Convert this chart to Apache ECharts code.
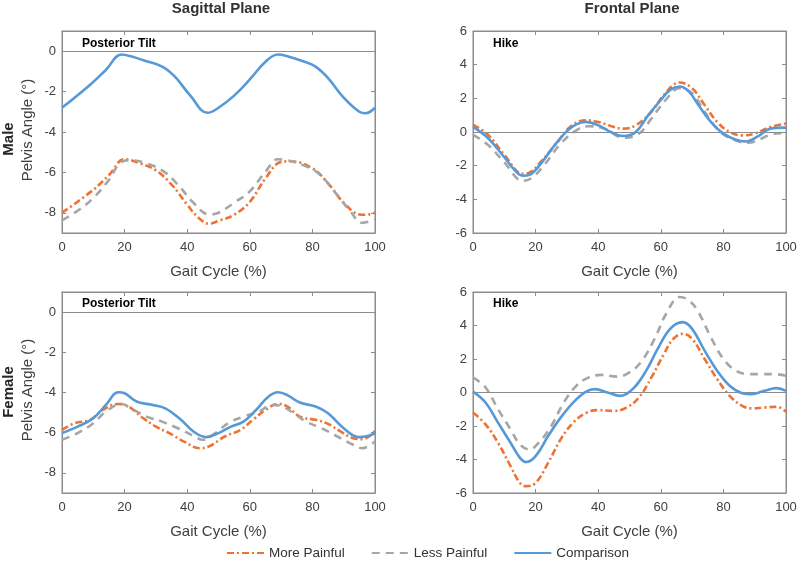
<!DOCTYPE html>
<html>
<head>
<meta charset="utf-8">
<script src="https://cdn.jsdelivr.net/npm/echarts@6/dist/echarts.min.js"></script>
<style>
html,body{margin:0;padding:0;background:#fff;}
#chart{width:800px;height:563px;}
</style>
</head>
<body>
<div id="chart"></div>
<script>
// ---- Labels ----
const colTitles = ['Sagittal Plane', 'Frontal Plane'];
const rowTitles = ['Male', 'Female'];
const yAxisTitle = 'Pelvis Angle (°)';
const xAxisTitle = 'Gait Cycle (%)';
const panelNotes = ['Posterior Tilt', 'Hike', 'Posterior Tilt', 'Hike'];
const seriesNames = ['More Painful', 'Less Painful', 'Comparison'];
const sagTicks = [-8, -6, -4, -2, 0];

// ---- Male, Sagittal ----
const mSagMoreX = [0,10,15,20,25,30,35,40,44,47,50,55,60,65,70,73,80,85,90,95,97,100];
const mSagMoreY = [-8.0,-6.86,-6.13,-5.35,-5.56,-5.9,-6.6,-7.6,-8.3,-8.54,-8.4,-8.1,-7.46,-6.3,-5.48,-5.45,-5.8,-6.54,-7.5,-8.08,-8.1,-8.0];
const mSagLessX = [0,5,10,15,19,22,27,32,37,42,47,50,55,60,65,69,72,77,82,87,92,96,100];
const mSagLessY = [-8.37,-7.9,-7.27,-6.37,-5.48,-5.4,-5.56,-5.9,-6.6,-7.5,-8.08,-8.0,-7.5,-6.94,-5.97,-5.35,-5.4,-5.64,-6.05,-6.94,-7.9,-8.5,-8.33];
const mSagCompX = [0,9,14,19,22,26,32,36,41,46.5,50,55,60,65,69,72,77,81,85,90,95,97,100];
const mSagCompY = [-2.8,-1.66,-0.93,-0.16,-0.25,-0.45,-0.76,-1.25,-2.2,-3.05,-2.8,-2.2,-1.4,-0.52,-0.16,-0.25,-0.5,-0.76,-1.33,-2.3,-3.0,-3.07,-2.8];

// ---- Male, Frontal ----
const mFroMoreX = [0,5,10,16,18,22,27,31,36,40,45,48,52,57,61,66,70,74,78,82,86,90,95,100];
const mFroMoreY = [0.44,-0.2,-1.35,-2.48,-2.42,-1.7,-0.6,0.3,0.7,0.6,0.3,0.2,0.4,1.2,2.2,2.94,2.6,1.6,0.6,0,-0.2,-0.1,0.3,0.5];
const mFroLessX = [0,5,10,16,19,23,28,33,37,42,48,53,57,62,66,70,74,79,84,88,92,96,100];
const mFroLessY = [-0.16,-0.8,-1.8,-2.9,-2.7,-1.9,-0.7,0.1,0.34,0.2,-0.34,-0.1,0.8,2.0,2.6,2.3,1.2,0,-0.5,-0.64,-0.4,-0.1,-0.06];
const mFroCompX = [0,5,10,14,16,18,22,26,30,33,36,40,44,48,52,56,60,63,66,69,72,76,80,84,87,91,95,100];
const mFroCompY = [0.3,-0.4,-1.5,-2.4,-2.6,-2.55,-1.8,-0.8,0.05,0.45,0.6,0.4,0.0,-0.24,0,1.0,1.9,2.5,2.7,2.4,1.6,0.6,-0.1,-0.46,-0.56,-0.26,0.2,0.26];

// ---- Female, Sagittal ----
const fSagMoreX = [0,4,9,13,18,21,26,30,34,39,44,47,52,57,61,65,69,72,76,81,85,89,93,96,100];
const fSagMoreY = [-5.86,-5.53,-5.36,-4.87,-4.57,-4.67,-5.28,-5.7,-6.0,-6.44,-6.77,-6.68,-6.19,-5.86,-5.36,-4.87,-4.57,-4.7,-5.2,-5.36,-5.56,-5.94,-6.27,-6.32,-5.9];
const fSagLessX = [0,5,10,14,19,22,27,32,37,42,45,49,53,58,63,67,70,74,78,83,88,93,96,100];
const fSagLessY = [-6.35,-6.02,-5.53,-4.95,-4.57,-4.79,-5.2,-5.45,-5.78,-6.15,-6.35,-6.02,-5.53,-5.2,-4.95,-4.62,-4.67,-5.03,-5.45,-5.78,-6.19,-6.6,-6.77,-6.44];
const fSagCompX = [0,5,10,14,18,20,24,29,33,38,42,46,50,54,58,62,66,69,72,76,81,85,90,95,98,100];
const fSagCompY = [-6.02,-5.7,-5.28,-4.62,-3.99,-4.04,-4.46,-4.62,-4.79,-5.36,-5.94,-6.22,-6.02,-5.7,-5.45,-4.87,-4.2,-3.99,-4.13,-4.5,-4.7,-5.03,-5.78,-6.22,-6.15,-6.02];

// ---- Female, Frontal ----
const fFroMoreX = [0,4,8,12,15,17,20,24,28,32,36,40,45,49,53,57,61,64,67,70,74,78,82,86,89,93,97,100];
const fFroMoreY = [-1.2,-1.9,-3.0,-4.4,-5.4,-5.6,-5.4,-4.2,-2.8,-1.8,-1.23,-1.05,-1.1,-0.9,-0.3,0.9,2.3,3.2,3.5,3.2,2.0,0.8,-0.2,-0.8,-0.95,-0.9,-0.85,-1.15];
const fFroLessX = [0,4,8,12,15,18,21,25,29,33,37,41,46,50,54,58,62,66,69,72,76,80,84,88,92,96,100];
const fFroLessY = [0.9,0.3,-1.0,-2.2,-3.1,-3.4,-3.0,-2.0,-0.6,0.4,0.9,1.05,0.95,1.2,1.9,3.2,4.8,5.7,5.5,4.8,3.3,2.0,1.3,1.1,1.1,1.1,1.0];
const fFroCompX = [0,4,8,12,15,17,20,24,28,32,36,39,43,47,51,55,59,63,67,70,74,78,82,86,89,93,97,100];
const fFroCompY = [0.05,-0.6,-1.8,-3.0,-3.9,-4.15,-3.8,-2.6,-1.5,-0.6,0.04,0.2,0,-0.2,0.2,1.2,2.6,3.8,4.2,3.8,2.5,1.3,0.4,-0.04,-0.1,0.1,0.26,0.1];

// ---- build ----
const FONT = '"Liberation Sans", Arial, sans-serif';
const AX = '#8c8c8c';
const TXT = '#404040';
const colors = ['#EE7230', '#A6A6A6', '#5599D8'];
const dashes = [[7,3,2,3], [8,6], 'solid'];

const panels = [
  {left:62, top:31, width:313, height:202, sag:true, sets:[[mSagMoreX,mSagMoreY],[mSagLessX,mSagLessY],[mSagCompX,mSagCompY]]},
  {left:473, top:31, width:313, height:202, sag:false, sets:[[mFroMoreX,mFroMoreY],[mFroLessX,mFroLessY],[mFroCompX,mFroCompY]]},
  {left:62, top:292, width:313, height:201, sag:true, sets:[[fSagMoreX,fSagMoreY],[fSagLessX,fSagLessY],[fSagCompX,fSagCompY]]},
  {left:473, top:292, width:313, height:201, sag:false, sets:[[fFroMoreX,fFroMoreY],[fFroLessX,fFroLessY],[fFroCompX,fFroCompY]]}
];

const grid = [], xAxis = [], yAxis = [], series = [];
panels.forEach((p, i) => {
  grid.push({left:p.left, top:p.top, width:p.width, height:p.height, show:true, borderColor:AX, borderWidth:1, containLabel:false});
  const yBase = p.sag
    ? {min:-9, max:1, axisLabel:{customValues:sagTicks}, axisTick:{customValues:sagTicks}}
    : {min:-6, max:6, interval:2};
  // bottom x
  xAxis.push({type:'value', gridIndex:i, min:0, max:100, interval:20, position:'bottom',
    name:xAxisTitle, nameLocation:'middle', nameGap:31,
    nameTextStyle:{fontFamily:FONT, fontSize:15, color:TXT},
    axisLine:{show:true, onZero:false, lineStyle:{color:AX, width:1}},
    axisTick:{show:true, inside:true, length:4, lineStyle:{color:AX}},
    axisLabel:{fontFamily:FONT, fontSize:13, color:TXT, margin:8},
    splitLine:{show:false}});
  // top x (ticks only)
  xAxis.push({type:'value', gridIndex:i, min:0, max:100, interval:20, position:'top',
    axisLine:{show:true, onZero:false, lineStyle:{color:AX, width:1}},
    axisTick:{show:true, inside:true, length:4, lineStyle:{color:AX}},
    axisLabel:{show:false}, splitLine:{show:false}});
  // left y
  const yl = Object.assign({type:'value', gridIndex:i, position:'left',
    axisLine:{show:true, onZero:false, lineStyle:{color:AX, width:1}},
    splitLine:{show:false}}, JSON.parse(JSON.stringify(yBase)));
  yl.axisLabel = Object.assign({fontFamily:FONT, fontSize:13, color:TXT, margin:6}, yl.axisLabel || {});
  yl.axisTick = Object.assign({show:true, inside:true, length:4, lineStyle:{color:AX}}, yl.axisTick || {});
  yAxis.push(yl);
  const yr = Object.assign({type:'value', gridIndex:i, position:'right',
    axisLine:{show:true, onZero:false, lineStyle:{color:AX, width:1}},
    splitLine:{show:false}}, JSON.parse(JSON.stringify(yBase)));
  yr.axisLabel = Object.assign({}, yr.axisLabel || {}, {show:false});
  yr.axisTick = Object.assign({show:true, inside:true, length:4, lineStyle:{color:AX}}, yr.axisTick || {});
  yAxis.push(yr);

  p.sets.forEach((s, k) => {
    const data = s[0].map((x, j) => [x, s[1][j]]);
    const ser = {
      name: seriesNames[k], type:'line', xAxisIndex:2*i, yAxisIndex:2*i,
      data, smooth:0.4, symbol:'none', showSymbol:false, silent:true,
      color: colors[k],
      lineStyle:{color:colors[k], width:2.6, type:dashes[k]},
      z: 3 + k
    };
    if (k === 0) {
      ser.markLine = {silent:true, symbol:'none', animation:false, label:{show:false},
        lineStyle:{color:'#8c8c8c', width:1, type:'solid'}, data:[{yAxis:0}]};
    }
    series.push(ser);
  });
});

const graphic = [];
// column titles
graphic.push({type:'text', x:221, y:9, style:{text:colTitles[0], font:'bold 15px ' + FONT, fill:'#333', align:'center', verticalAlign:'middle'}});
graphic.push({type:'text', x:632, y:9, style:{text:colTitles[1], font:'bold 15px ' + FONT, fill:'#333', align:'center', verticalAlign:'middle'}});
// row labels
[[139, 130], [392, 390]].forEach((c, r) => {
  graphic.push({type:'text', x:9, y:c[0], rotation:Math.PI/2, style:{text:rowTitles[r], font:'bold 15px ' + FONT, fill:'#262626', align:'center', verticalAlign:'middle'}});
  graphic.push({type:'text', x:28, y:c[1], rotation:Math.PI/2, style:{text:yAxisTitle, font:'15px ' + FONT, fill:TXT, align:'center', verticalAlign:'middle'}});
});
// panel notes
[[82,44],[493,44],[82,304],[493,304]].forEach((c, i) => {
  graphic.push({type:'text', x:c[0], y:c[1], style:{text:panelNotes[i], font:'bold 12px ' + FONT, fill:'#000', align:'left', verticalAlign:'middle'}});
});

const option = {
  animation:false,
  backgroundColor:'#fff',
  grid, xAxis, yAxis, series, graphic,
  legend:{
    data: seriesNames, left:221, top:541, itemWidth:37, itemHeight:14, itemGap:26,
    itemStyle:{opacity:0},
    textStyle:{fontFamily:FONT, fontSize:13.5, color:'#333'},
    selectedMode:false
  }
};
const chart = echarts.init(document.getElementById('chart'), null, {renderer:'canvas'});
chart.setOption(option);
</script>
</body>
</html>
